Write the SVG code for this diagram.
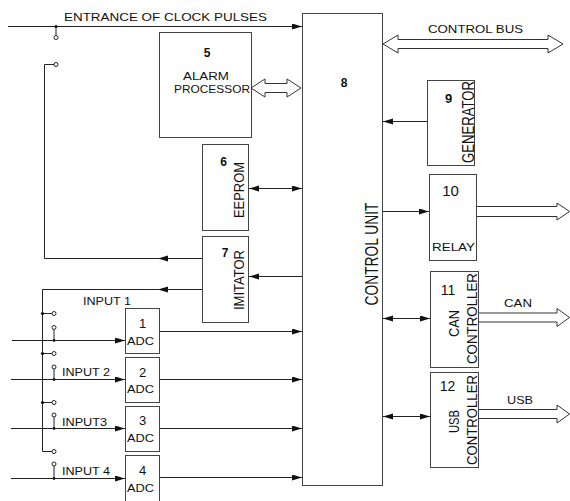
<svg xmlns="http://www.w3.org/2000/svg" width="570" height="501" viewBox="0 0 570 501">
<defs>
<marker id="ah" markerUnits="userSpaceOnUse" markerWidth="11" markerHeight="7" refX="10" refY="3" orient="auto-start-reverse" viewBox="0 0 11 7">
<path d="M0,0 L10,3 L0,6 Z" fill="#111"/>
</marker>
</defs>
<style>
rect{fill:#fff;stroke:#444;stroke-width:1}
.c path,.c line{fill:none;stroke:#222;stroke-width:1}
.c .ar{marker-end:url(#ah)}
.c .bi{marker-start:url(#ah);marker-end:url(#ah)}
.c .hol{fill:#fff;stroke:#333;stroke-width:1}
.c circle{fill:#fff;stroke:#222;stroke-width:1}
.c circle.d{fill:#111;stroke:none}
text{font-family:"Liberation Sans",Arial,sans-serif;font-size:11px;fill:#111}
.v{font-size:15px}
.n{font-weight:bold;font-size:12px}
.a{font-size:13px}
</style>
<g id="labels">
<text x="64" y="20.5" textLength="203" lengthAdjust="spacingAndGlyphs">ENTRANCE OF CLOCK PULSES</text>
<text x="428" y="33" textLength="95" lengthAdjust="spacingAndGlyphs">CONTROL BUS</text>
<text x="83" y="305" textLength="48" lengthAdjust="spacingAndGlyphs">INPUT 1</text>
<text x="62" y="376" textLength="48" lengthAdjust="spacingAndGlyphs">INPUT 2</text>
<text x="62" y="426" textLength="45" lengthAdjust="spacingAndGlyphs">INPUT3</text>
<text x="62" y="475" textLength="48" lengthAdjust="spacingAndGlyphs">INPUT 4</text>
<text x="504" y="307" textLength="28" lengthAdjust="spacingAndGlyphs">CAN</text>
<text x="507" y="404" textLength="26" lengthAdjust="spacingAndGlyphs">USB</text>
</g>
<g id="n5">
<rect x="159.5" y="32.5" width="92" height="105"/>
<text x="207" y="57" text-anchor="middle" class="n">5</text>
<text x="183" y="80" textLength="46" lengthAdjust="spacingAndGlyphs">ALARM</text>
<text x="174" y="93" textLength="76" lengthAdjust="spacingAndGlyphs">PROCESSOR</text>
</g>
<g id="n6">
<rect x="202.5" y="144.5" width="46" height="86"/>
<text x="223.5" y="166" text-anchor="middle" class="n">6</text>
<text class="v" transform="translate(244,190) rotate(-90)" text-anchor="middle" textLength="56" lengthAdjust="spacingAndGlyphs">EEPROM</text>
</g>
<g id="n7">
<rect x="202.5" y="236.5" width="46" height="86"/>
<text x="225" y="257" text-anchor="middle" class="n">7</text>
<text class="v" transform="translate(244,280) rotate(-90)" text-anchor="middle" textLength="60" lengthAdjust="spacingAndGlyphs">IMITATOR</text>
</g>
<g id="n8">
<rect x="302.5" y="13.5" width="80" height="472"/>
<text x="344" y="87" text-anchor="middle" class="n">8</text>
<text class="v" style="font-size:18px" transform="translate(377.5,254) rotate(-90)" text-anchor="middle" textLength="103" lengthAdjust="spacingAndGlyphs">CONTROL UNIT</text>
</g>
<g id="n9">
<rect x="427.5" y="80.5" width="47" height="85"/>
<text x="448.5" y="103" text-anchor="middle" class="n" style="font-size:13px">9</text>
<text class="v" style="font-size:16px" transform="translate(474,122) rotate(-90)" text-anchor="middle" textLength="82" lengthAdjust="spacingAndGlyphs">GENERATOR</text>
</g>
<g id="n10">
<rect x="429.5" y="174.5" width="47" height="86"/>
<text x="450.5" y="196" text-anchor="middle" style="font-size:15px">10</text>
<text x="432" y="251" textLength="43" lengthAdjust="spacingAndGlyphs">RELAY</text>
</g>
<g id="n11">
<rect x="430.5" y="271.5" width="48" height="96"/>
<text x="448" y="295" text-anchor="middle" style="font-size:14px">11</text>
<text class="v" transform="translate(459,323.5) rotate(-90)" text-anchor="middle" textLength="27" lengthAdjust="spacingAndGlyphs">CAN</text>
<text class="v" transform="translate(477,318.5) rotate(-90)" text-anchor="middle" textLength="91" lengthAdjust="spacingAndGlyphs">CONTROLLER</text>
</g>
<g id="n12">
<rect x="430.5" y="372.5" width="48" height="95"/>
<text x="447.5" y="391" text-anchor="middle" style="font-size:14px">12</text>
<text class="v" transform="translate(459,421.5) rotate(-90)" text-anchor="middle" textLength="23" lengthAdjust="spacingAndGlyphs">USB</text>
<text class="v" transform="translate(477,420) rotate(-90)" text-anchor="middle" textLength="90" lengthAdjust="spacingAndGlyphs">CONTROLLER</text>
</g>
<g id="adc1">
<rect x="125.5" y="308.5" width="34" height="45"/>
<text x="142.5" y="328" text-anchor="middle" class="a">1</text>
<text x="127" y="345" textLength="27" lengthAdjust="spacingAndGlyphs">ADC</text>
</g>
<g id="adc2">
<rect x="125.5" y="357.5" width="34" height="45"/>
<text x="142.5" y="377" text-anchor="middle" class="a">2</text>
<text x="127" y="393" textLength="27" lengthAdjust="spacingAndGlyphs">ADC</text>
</g>
<g id="adc3">
<rect x="125.5" y="406.5" width="34" height="45"/>
<text x="142.5" y="425" text-anchor="middle" class="a">3</text>
<text x="127" y="442" textLength="27" lengthAdjust="spacingAndGlyphs">ADC</text>
</g>
<g id="adc4">
<rect x="125.5" y="455.5" width="34" height="50"/>
<text x="142.5" y="475" text-anchor="middle" class="a">4</text>
<text x="127" y="492" textLength="27" lengthAdjust="spacingAndGlyphs">ADC</text>
</g>
<g id="connectors" class="c">
<path class="ar" d="M8,26.5 H302"/>
<path d="M56,26.5 V35.5"/>
<circle class="d" cx="56" cy="26.5" r="1.6"/>
<circle cx="56" cy="37.5" r="2"/>
<path d="M160,258.5 H44.5 V64.5 H54"/>
<circle cx="56" cy="64.5" r="2"/>
<path class="ar" d="M202,258.5 H158"/>
<path d="M160,289.5 H42.5 V451.5 H52"/>
<circle cx="54" cy="451.5" r="2"/>
<path class="ar" d="M202,289.5 H158"/>
<path d="M42.5,313.5 H52 M42.5,353.5 H52 M42.5,402.5 H52"/>
<circle class="d" cx="42.5" cy="313.5" r="1.6"/>
<circle class="d" cx="42.5" cy="353.5" r="1.6"/>
<circle class="d" cx="42.5" cy="402.5" r="1.6"/>
<circle cx="54" cy="313.5" r="2"/>
<circle cx="54" cy="353.5" r="2"/>
<circle cx="54" cy="402.5" r="2"/>
<path d="M54,329.5 V340.5 M54,369 V379.5 M54,417 V428.5 M54,466 V478.5"/>
<circle cx="54" cy="327.5" r="2"/>
<circle cx="54" cy="367" r="2"/>
<circle cx="54" cy="415" r="2"/>
<circle cx="54" cy="464" r="2"/>
<circle class="d" cx="54" cy="340.5" r="1.4"/>
<circle class="d" cx="54" cy="379.5" r="1.4"/>
<circle class="d" cx="54" cy="428.5" r="1.4"/>
<circle class="d" cx="54" cy="478.5" r="1.4"/>
<path class="ar" d="M12,340.5 H125"/>
<path class="ar" d="M11,379.5 H125"/>
<path class="ar" d="M11,428.5 H125"/>
<path class="ar" d="M11,478.5 H125"/>
<path class="ar" d="M160,331.5 H302"/>
<path class="ar" d="M160,379.5 H302"/>
<path class="ar" d="M160,428.5 H302"/>
<path class="ar" d="M160,477.5 H302"/>
<path class="bi" d="M249,188.5 H302"/>
<path class="ar" d="M302,276.5 H249"/>
<path class="ar" d="M427,121.5 H383"/>
<path class="ar" d="M383,211.5 H429"/>
<path class="bi" d="M383,318.5 H430"/>
<path class="bi" d="M383,416.5 H430"/>
<path class="hol" d="M251,88 L265,79 L265,83.5 L287,83.5 L287,79 L301,88 L287,97 L287,92.5 L265,92.5 L265,97 Z"/>
<path class="hol" d="M383,44 L398,35 L398,39.5 L548,39.5 L548,35 L563,44 L548,53 L548,48.5 L398,48.5 L398,53 Z"/>
<path class="hol" d="M477,206.5 L557,206.5 L557,203 L569.5,211.5 L557,220 L557,216.5 L477,216.5"/>
<path class="hol" d="M479,313 L557,313 L557,308.5 L569.5,317.5 L557,326.5 L557,322 L479,322"/>
<path class="hol" d="M479,409.5 L557,409.5 L557,405 L569.5,414 L557,423 L557,418.5 L479,418.5"/>
</g>
</svg>
